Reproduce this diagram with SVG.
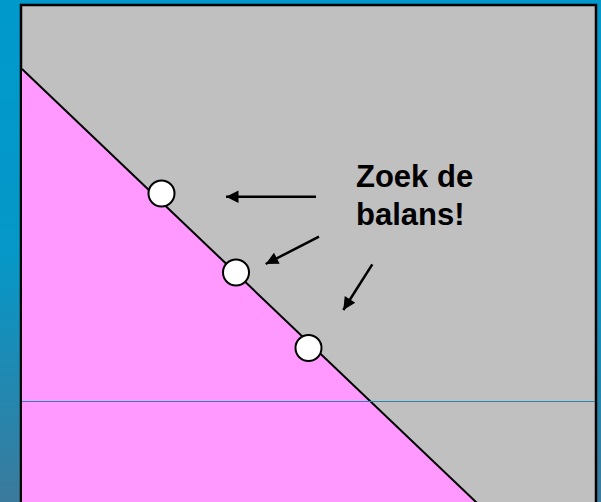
<svg xmlns="http://www.w3.org/2000/svg" width="601" height="502" viewBox="0 0 601 502">
  <defs>
    <linearGradient id="bg" x1="0" y1="0" x2="0" y2="1">
      <stop offset="0" stop-color="#0099cc"/>
      <stop offset="0.5" stop-color="#0598c8"/>
      <stop offset="1" stop-color="#3b7a9c"/>
    </linearGradient>
    <marker id="ah" viewBox="0 0 10 10" refX="10" refY="5" markerWidth="6" markerHeight="5" markerUnits="strokeWidth" orient="auto">
      <path d="M0,0 L10,5 L0,10 Z" fill="#000"/>
    </marker>
    <style>
      .arrow { stroke: #000; stroke-width: 2.5; fill: none; marker-end: url(#ah); }
      .dot { fill: #fff; stroke: #000; stroke-width: 2; }
      .lbl { font-family: "Liberation Sans", Arial, sans-serif; font-weight: bold; font-size: 31px; fill: #000; }
    </style>
  </defs>
  <rect x="0" y="0" width="601" height="502" fill="url(#bg)"/>
  <g id="panel">
    <rect x="21" y="5" width="575" height="510" fill="#c0c0c0" stroke="#000" stroke-width="2.5"/>
    <polygon points="22,69 476,502 22,502" fill="#ff99ff"/>
    <line x1="22" y1="69" x2="477" y2="503" stroke="#000" stroke-width="2"/>
    <line x1="22" y1="401.5" x2="595" y2="401.5" stroke="#2a84b0" stroke-width="1"/>
  </g>
  <g id="points">
    <circle class="dot" cx="161.5" cy="193.5" r="13"/>
    <circle class="dot" cx="236" cy="272.5" r="13"/>
    <circle class="dot" cx="308.5" cy="348" r="13"/>
  </g>
  <g id="connectors">
    <line class="arrow" x1="316" y1="196.7" x2="226" y2="196.7"/>
    <line class="arrow" x1="319" y1="236.7" x2="265.7" y2="264"/>
    <line class="arrow" x1="372.3" y1="264.3" x2="343.3" y2="310"/>
  </g>
  <g id="label">
    <text class="lbl" x="356" y="186.5">Zoek de</text>
    <text class="lbl" x="356" y="225">balans!</text>
  </g>
</svg>
